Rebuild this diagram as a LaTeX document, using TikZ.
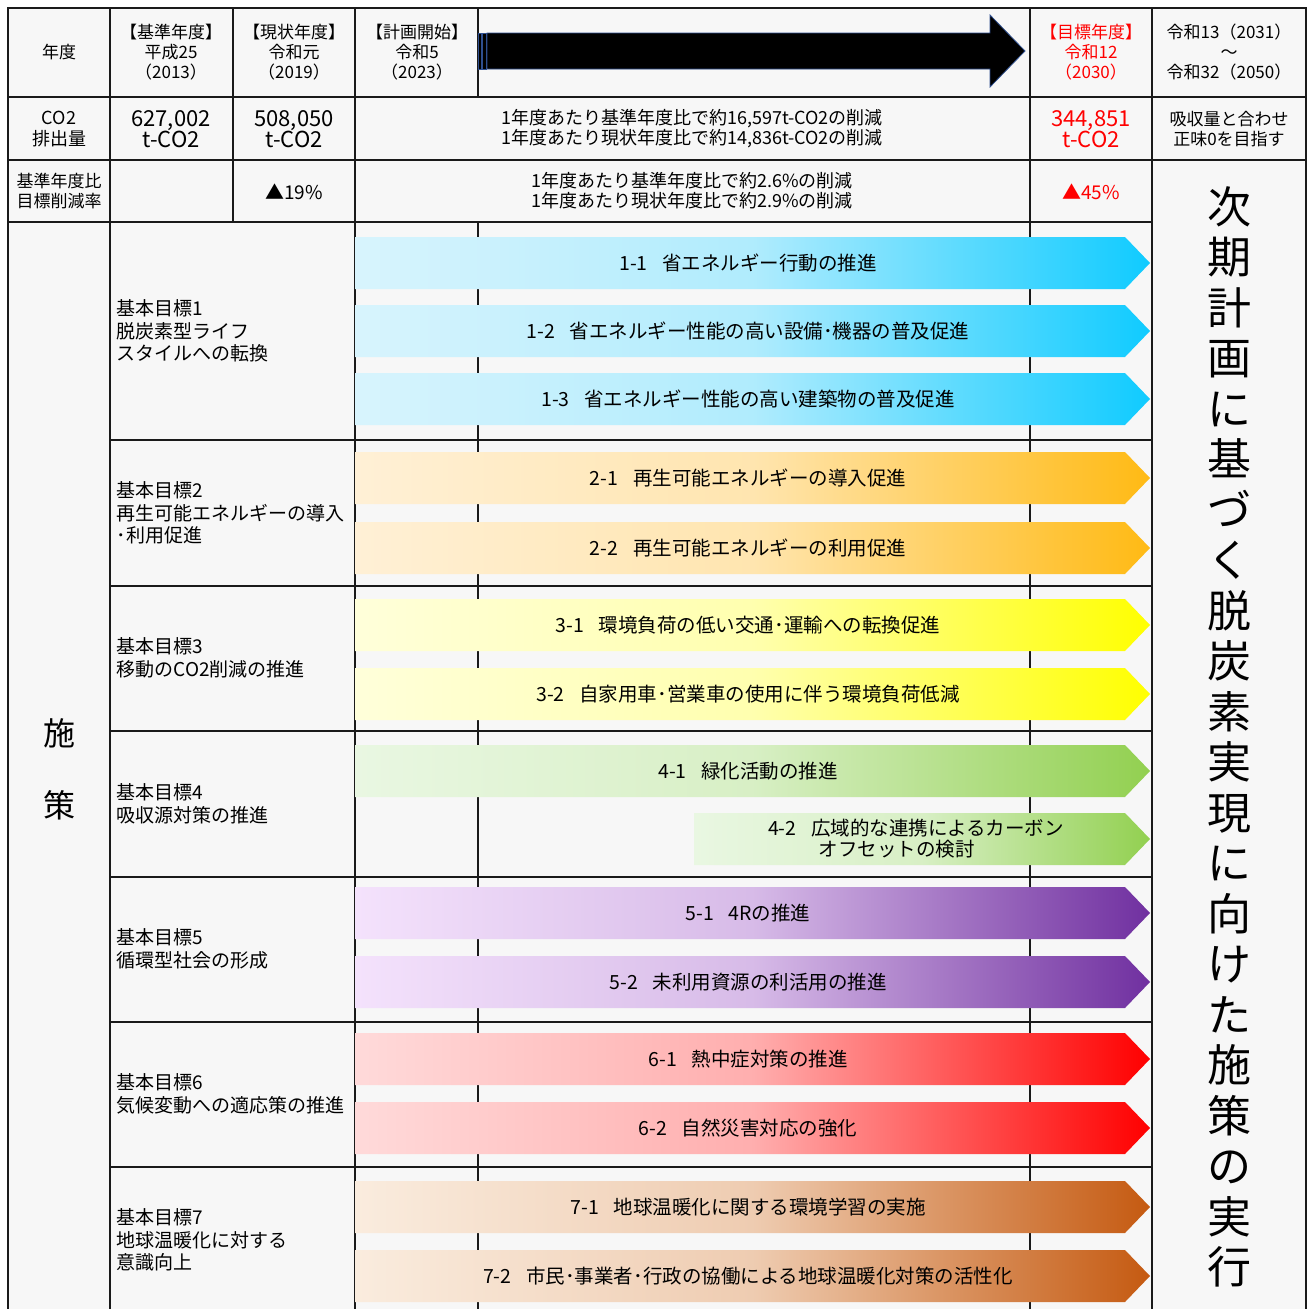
\documentclass[tikz,border=0pt]{standalone}
\usepackage{fontspec}
\setmainfont{Noto Sans CJK JP}
\usepackage{xcolor}

\definecolor{cellbg}{HTML}{F7F7F7}
\definecolor{gridline}{HTML}{1A1A1A}
\definecolor{arrowedge}{HTML}{2F4F8F}
\definecolor{alert}{HTML}{FF0000}
\definecolor{bluL}{HTML}{D8F4FD}\definecolor{bluR}{HTML}{10CBFF}
\definecolor{oraL}{HTML}{FFF0D6}\definecolor{oraR}{HTML}{FFBA14}
\definecolor{yelL}{HTML}{FFFFDA}\definecolor{yelR}{HTML}{FFFF00}
\definecolor{grnL}{HTML}{E9F7E2}\definecolor{grnR}{HTML}{92D050}
\definecolor{purL}{HTML}{F4E2FC}\definecolor{purR}{HTML}{7030A0}
\definecolor{redL}{HTML}{FFDADA}\definecolor{redR}{HTML}{FF0000}
\definecolor{brnL}{HTML}{FAECDE}\definecolor{brnR}{HTML}{C55A11}
\colorlet{bluM}{bluL!80!bluR}
\colorlet{oraM}{oraL!80!oraR}
\colorlet{yelM}{yelL!80!yelR}
\colorlet{grnM}{grnL!80!grnR}
\colorlet{purM}{purL!78!purR}
\colorlet{redM}{redL!80!redR}
\colorlet{brnM}{brnL!78!brnR}

\newcommand\plangap{\hspace{0.75em}}

\tikzset{
  grid/.style={line width=1.2pt, draw=gridline},
  frame/.style={line width=2.2pt, draw=gridline},
  head/.style={align=center, font=\fontsize{17}{20}\selectfont},
  redhead/.style={align=center, text=alert, font=\fontsize{17}{20}\selectfont},
  amount/.style={align=center, font=\fontsize{22}{21}\selectfont},
  note/.style={align=left, font=\fontsize{18}{20}\selectfont},
  goal/.style={anchor=west, align=left, font=\fontsize{19}{22.5}\selectfont},
  plan/.style={font=\fontsize{19.5}{21}\selectfont},
}

\begin{document}
\begin{tikzpicture}[x=1pt, y=-1pt]
    \useasboundingbox (0,0) rectangle (1310,1309);
    \fill[white] (0,0) rectangle (1310,1309);
    \fill[cellbg] (8,8) rectangle (1306,1309);

    % grid of the table
    \draw[grid] (8,97) -- (1306,97);
    \draw[grid] (8,160) -- (1306,160);
    \draw[grid] (8,222) -- (1152,222);
    \foreach \y in {440,586,731,877,1022,1167}
        \draw[grid] (110,\y) -- (1152,\y);
    \draw[grid] (110,8) -- (110,1309);
    \draw[grid] (233,8) -- (233,222);
    \draw[grid] (355,8) -- (355,1309);
    \draw[grid] (478,8) -- (478,97);
    \draw[grid] (478,222) -- (478,1309);
    \draw[grid] (1030,8) -- (1030,1309);
    \draw[grid] (1152,8) -- (1152,1309);
    \draw[frame] (8,1309) -- (8,8) -- (1306,8) -- (1306,1309);

    % header row
    \node[head] (year) at (59,52) {年度};
    \node[head] (base) at (171,52) {【基準年度】\\平成25\\（2013）};
    \node[head] (now) at (294,52) {【現状年度】\\令和元\\（2019）};
    \node[head] (start) at (417,52) {【計画開始】\\令和5\\（2023）};
    \node[redhead] (target) at (1091,52) {【目標年度】\\令和12\\（2030）};
    \node[head] (later) at (1229,52) {令和13（2031）\\～\\令和32（2050）};

    % striped arrow of the years
    \draw[fill=black, draw=arrowedge, line width=0.8pt]
        (487,33) -- (990,33) -- (990,15) -- (1025,51) -- (990,87) -- (990,69) -- (487,69) -- cycle;
    \draw[fill=black, draw=arrowedge, line width=0.8pt] (478.5,33) rectangle (481,69);
    \draw[fill=black, draw=arrowedge, line width=0.8pt] (482.5,33) rectangle (486,69);

    % emission row
    \node[head, font=\fontsize{18}{21}\selectfont] (co2) at (59,129) {CO2\\排出量};
    \node[amount] (co2base) at (171,129) {627,002\\t-CO2};
    \node[amount] (co2now) at (294,129) {508,050\\t-CO2};
    \node[note] (co2step) at (692,129) {1年度あたり基準年度比で約16,597t-CO2の削減\\1年度あたり現状年度比で約14,836t-CO2の削減};
    \node[amount, text=alert] (co2target) at (1091,129) {344,851\\t-CO2};
    \node[head] (co2later) at (1229,129) {吸収量と合わせ\\正味0を目指す};

    % rate row
    \node[head] (rate) at (59,191) {基準年度比\\目標削減率};
    \node[amount, font=\fontsize{19}{21}\selectfont] (ratenow) at (294,192) {▲19\%};
    \node[note] (ratestep) at (692,191) {1年度あたり基準年度比で約2.6\%の削減\\1年度あたり現状年度比で約2.9\%の削減};
    \node[amount, text=alert, font=\fontsize{19}{21}\selectfont] (ratetarget) at (1091,192) {▲45\%};

    % measures
    \node[font=\fontsize{32}{72}\selectfont, align=center] (measures) at (59,769) {施\\策};
    \node[font=\fontsize{44}{50.5}\selectfont, align=center] (next) at (1229,737)
        {次\\期\\計\\画\\に\\基\\づ\\く\\脱\\炭\\素\\実\\現\\に\\向\\け\\た\\施\\策\\の\\実\\行};

    \node[goal] (goal1) at (113,331) {基本目標1\\脱炭素型ライフ\\スタイルへの転換};
    \node[goal] (goal2) at (113,513) {基本目標2\\再生可能エネルギーの導入\\･利用促進};
    \node[goal] (goal3) at (113,658) {基本目標3\\移動のCO2削減の推進};
    \node[goal] (goal4) at (113,804) {基本目標4\\吸収源対策の推進};
    \node[goal] (goal5) at (113,949) {基本目標5\\循環型社会の形成};
    \node[goal] (goal6) at (113,1094) {基本目標6\\気候変動への適応策の推進};
    \node[goal] (goal7) at (113,1240) {基本目標7\\地球温暖化に対する\\意識向上};

    \foreach \n/\y/\c/\txt in {
        11/263/blu/{1-1\plangap 省エネルギー行動の推進},
        12/331/blu/{1-2\plangap 省エネルギー性能の高い設備･機器の普及促進},
        13/399/blu/{1-3\plangap 省エネルギー性能の高い建築物の普及促進},
        21/478/ora/{2-1\plangap 再生可能エネルギーの導入促進},
        22/548/ora/{2-2\plangap 再生可能エネルギーの利用促進},
        31/625/yel/{3-1\plangap 環境負荷の低い交通･運輸への転換促進},
        32/694/yel/{3-2\plangap 自家用車･営業車の使用に伴う環境負荷低減},
        41/771/grn/{4-1\plangap 緑化活動の推進},
        51/913/pur/{5-1\plangap 4Rの推進},
        52/982/pur/{5-2\plangap 未利用資源の利活用の推進},
        61/1059/red/{6-1\plangap 熱中症対策の推進},
        62/1128/red/{6-2\plangap 自然災害対応の強化},
        71/1207/brn/{7-1\plangap 地球温暖化に関する環境学習の実施},
        72/1276/brn/{7-2\plangap 市民･事業者･行政の協働による地球温暖化対策の活性化}}
    {
        \shade[left color=\c L, right color=\c R, middle color=\c M]
            (355,\y-26) -- (1125,\y-26) -- (1150,\y) -- (1125,\y+26) -- (355,\y+26) -- cycle;
        \node[plan] (plan\n) at (748,\y) {\txt};
    }
    \shade[left color=grnL, right color=grnR, middle color=grnM]
        (694,813) -- (1125,813) -- (1150,839) -- (1125,865) -- (694,865) -- cycle;
    \node[plan, align=left, font=\fontsize{19.5}{21}\selectfont] (plan42) at (916,839)
        {4-2\plangap 広域的な連携によるカーボン\\\hspace{2.6em}オフセットの検討};
\end{tikzpicture}
\end{document}
